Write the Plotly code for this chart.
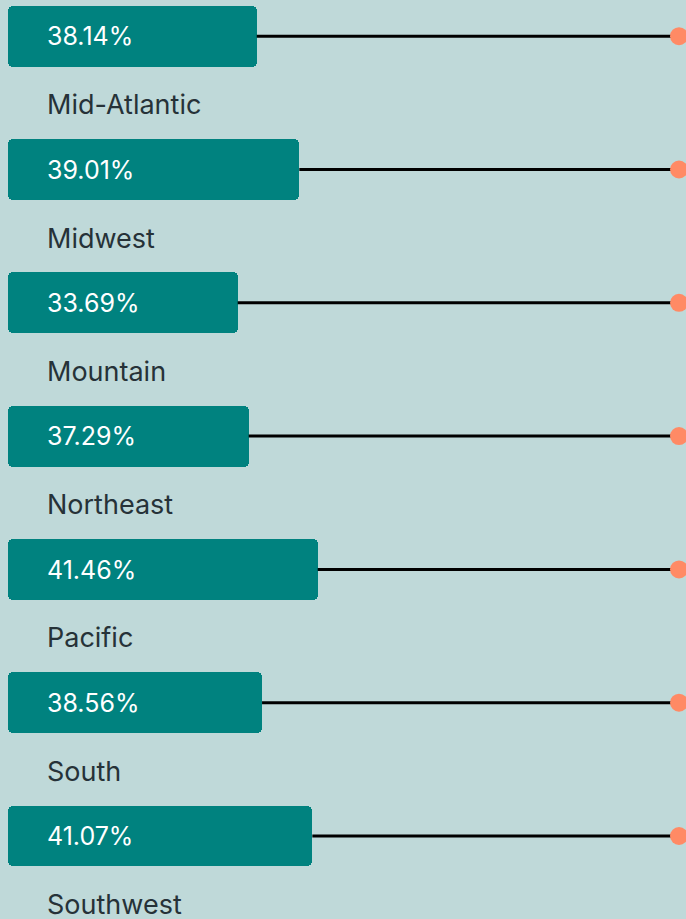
import plotly.graph_objects as go

regions = ["Mid-Atlantic", "Midwest", "Mountain", "Northeast", "Pacific", "South", "Southwest"]
pct_labels = ["38.14%", "39.01%", "33.69%", "37.29%", "41.46%", "38.56%", "41.07%"]
# bar lengths as share of the track (track end = 100, where the dot sits)
bar_lengths = [37.04, 43.39, 34.20, 35.84, 46.13, 37.83, 45.33]
track_end = 100

BG = "#BFD9D9"
BAR = "#00827F"
DOT = "#FF8A65"
TXT = "#263238"
FONT = "Inter"

rows = list(range(len(regions)))
text_x = 5.77
value_dy = 0.022
label_dy = 0.535

fig = go.Figure()

# connector lines
lx, ly = [], []
for i, b in zip(rows, bar_lengths):
    lx += [b, track_end, None]
    ly += [i, i, None]
fig.add_trace(go.Scatter(x=lx, y=ly, mode="lines",
                         line=dict(color="#000000", width=3),
                         hoverinfo="skip", showlegend=False))

# bars
fig.add_trace(go.Bar(x=bar_lengths, y=rows, orientation="h", base=0,
                     width=0.4575, marker=dict(color=BAR, cornerradius=5, line=dict(width=0)),
                     hoverinfo="skip", showlegend=False))

# dots
fig.add_trace(go.Scatter(x=[track_end] * len(rows), y=rows, mode="markers",
                         marker=dict(color=DOT, size=18, line=dict(width=0)),
                         cliponaxis=False, hoverinfo="skip", showlegend=False))

# value labels inside bars
fig.add_trace(go.Scatter(x=[text_x] * len(rows), y=[r + value_dy for r in rows], mode="text",
                         text=pct_labels, textposition="middle right",
                         textfont=dict(family=FONT, size=25, color="#FFFFFF"),
                         hoverinfo="skip", showlegend=False))

# category labels under bars
fig.add_trace(go.Scatter(x=[text_x] * len(rows), y=[r + label_dy for r in rows], mode="text",
                         text=regions, textposition="middle right",
                         textfont=dict(family=FONT, size=27, color=TXT),
                         cliponaxis=False, hoverinfo="skip", showlegend=False))

fig.update_layout(
    width=686, height=919,
    margin=dict(l=0, r=0, t=0, b=0),
    paper_bgcolor=BG, plot_bgcolor=BG,
    xaxis=dict(range=[-1.2375, 101.04], visible=False, fixedrange=True),
    yaxis=dict(range=[6.6227, -0.2716], visible=False, fixedrange=True),
    bargap=0,
)

fig.write_html("out.html", config={"displayModeBar": False},
               post_script="document.body.style.margin='0';document.body.style.overflow='hidden';")
